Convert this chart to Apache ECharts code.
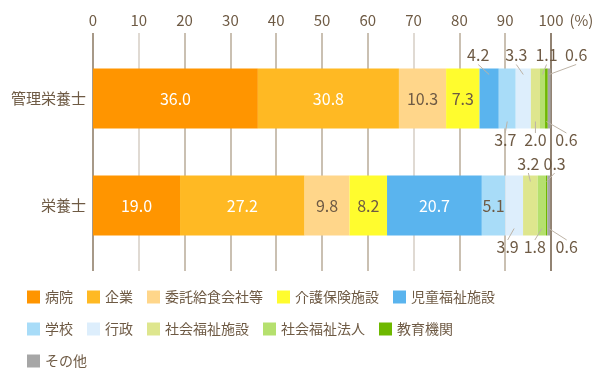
<!DOCTYPE html>
<html><head><meta charset="utf-8">
<script src="https://cdn.jsdelivr.net/npm/echarts@6/dist/echarts.min.js"></script>
<style>html,body{margin:0;padding:0;background:#fff}#c{width:600px;height:380px}</style>
</head><body><div id="c"></div>
<script>
// ---- data ----
const categories = ['管理栄養士', '栄養士'];
const seriesNames = ['病院', '企業', '委託給食会社等', '介護保険施設', '児童福祉施設', '学校', '行政', '社会福祉施設', '社会福祉法人', '教育機関', 'その他'];
const hospital = [36.0, 19.0];
const company = [30.8, 27.2];
const catering = [10.3, 9.8];
const careFacility = [7.3, 8.2];
const childWelfare = [4.2, 20.7];
const school = [3.7, 5.1];
const government = [3.3, 3.9];
const socialWelfareFacility = [2.0, 3.2];
const socialWelfareCorp = [1.1, 1.8];
const education = [0.6, 0.3];
const other = [0.6, 0.6];
const xTickLabels = ['0', '10', '20', '30', '40', '50', '60', '70', '80', '90', '100'];
const unitLabel = '(%)';

// ---- styles ----
const seriesValues = [hospital, company, catering, careFacility, childWelfare, school, government, socialWelfareFacility, socialWelfareCorp, education, other];
const colors = ['#FF9500', '#FFB923', '#FFD68A', '#FFFC2E', '#5AB4EE', '#A8DCF8', '#DDEEFC', '#DEE68E', '#B5E06E', '#6EB800', '#A6A6A6'];
const BROWN = '#6e5a44';
const LEADER = '#bdb3a6';
const FONT = '"Noto Sans CJK JP", "Noto Sans", sans-serif';
const BAR_W = 60;
const W = {p: 'inside', c: '#fff'};
const D = {p: 'inside', c: BROWN};
// outside labels: label centre offset from segment centre (dx), and from bar edge (gap)
const placement = [
  [W, W],
  [W, W],
  [D, D],
  [D, D],
  [{p: 'top', dx: -11, gap: 13.5}, W],
  [{p: 'bottom', dx: -2, gap: 11.5}, D],
  [{p: 'top', dx: -7, gap: 13.5}, {p: 'bottom', dx: -6.5, gap: 11.5}],
  [{p: 'bottom', dx: 0, gap: 11.5}, {p: 'top', dx: -2, gap: 12}],
  [{p: 'top', dx: 4, gap: 13.5}, {p: 'bottom', dx: -7, gap: 11.5}],
  [{p: 'bottom', dx: 20, gap: 11.5}, {p: 'top', dx: 8, gap: 12}],
  [{p: 'top', dx: 27, gap: 13.5}, {p: 'bottom', dx: 18, gap: 11.5}]
];
const splitColors = ['#8a7760', '#d6cec4', '#b9ab99', '#b9ab99', '#b9ab99', '#b9ab99', '#b9ab99', '#d6cec4', '#b9ab99', '#b9ab99', '#6e5a44'];

const series = seriesValues.map((vals, i) => ({
  type: 'bar',
  name: seriesNames[i],
  stack: 'total',
  xAxisIndex: 1,
  yAxisIndex: 1,
  barWidth: BAR_W,
  itemStyle: {color: colors[i]},
  emphasis: {disabled: true},
  data: vals.map((v, j) => {
    const pl = placement[i][j];
    if (pl.p === 'inside') {
      return {value: v, label: {show: true, position: 'inside', color: pl.c}};
    }
    return {value: v, label: {show: true, position: pl.p, color: BROWN}};
  }),
  label: {fontSize: 16, fontFamily: FONT, formatter: p => p.value.toFixed(1)},
  labelLayout: params => {
    const pl = placement[i][params.dataIndex];
    if (!pl || pl.p === 'inside') return {};
    const r = params.rect;
    const cx = r.x + r.width / 2;
    const top = pl.p === 'top';
    return {
      x: cx + pl.dx, y: top ? r.y - pl.gap : r.y + r.height + pl.gap,
      align: 'center', verticalAlign: 'middle'
    };
  }
}));

// leader lines for outside labels, built from the stacked values
const leaderData = [];
seriesValues.forEach((vals, i) => {
  vals.forEach((v, j) => {
    if (placement[i][j].p === 'inside') return;
    let start = 0;
    for (let k = 0; k < i; k++) start += seriesValues[k][j];
    leaderData.push([start, start + v, j, i]);
  });
});
series.push({
  type: 'custom',
  xAxisIndex: 1,
  yAxisIndex: 1,
  silent: true,
  z: 5,
  encode: {x: [0, 1], y: 2},
  data: leaderData,
  renderItem: (params, api) => {
    const row = api.value(2), si = api.value(3);
    const pl = placement[si][row];
    const a = api.coord([api.value(0), row]);
    const b = api.coord([api.value(1), row]);
    const cx = (a[0] + b[0]) / 2;
    const cy = a[1];
    const top = pl.p === 'top';
    const edge = top ? cy - BAR_W / 2 : cy + BAR_W / 2;
    const ly = top ? edge - pl.gap : edge + pl.gap;
    return {
      type: 'line',
      shape: {
        x1: cx + pl.dx, y1: top ? ly + 9.5 : ly - 7,
        x2: cx, y2: top ? edge + 6 : edge - 7
      },
      style: {stroke: LEADER, lineWidth: 1}
    };
  }
});

const chart = echarts.init(document.getElementById('c'), null, {renderer: 'canvas'});
chart.setOption({
  animation: false,
  textStyle: {fontFamily: FONT},
  grid: [
    {left: 93, right: 49, top: 33, bottom: 109},
    {left: 93, right: 49, top: 45, height: 214}
  ],
  legend: {
    data: seriesNames,
    left: 27, top: 288, width: 485,
    itemWidth: 13, itemHeight: 13, itemGap: 14, padding: 0,
    icon: 'rect',
    textStyle: {fontSize: 14, color: BROWN, fontFamily: FONT, lineHeight: 18}
  },
  xAxis: [
    {
      type: 'value', gridIndex: 0, position: 'top', min: 0, max: 100, interval: 10,
      axisLine: {show: false}, axisTick: {show: false},
      axisLabel: {fontSize: 15, color: BROWN, margin: 5, formatter: (v, idx) => xTickLabels[idx]},
      splitLine: {show: true, lineStyle: {color: splitColors, width: 1.5}},
      name: unitLabel, nameLocation: 'end', nameGap: 13,
      nameTextStyle: {fontSize: 15, color: BROWN, verticalAlign: 'bottom', padding: [0, 0, 5, 0]}
    },
    {type: 'value', gridIndex: 1, min: 0, max: 100, show: false}
  ],
  yAxis: [
    {type: 'category', gridIndex: 0, data: categories, inverse: true, show: false},
    {
      type: 'category', gridIndex: 1, data: categories, inverse: true,
      axisLine: {show: false}, axisTick: {show: false},
      axisLabel: {fontSize: 15, color: BROWN, margin: 7}
    }
  ],
  series: series
});
</script>
</body></html>
